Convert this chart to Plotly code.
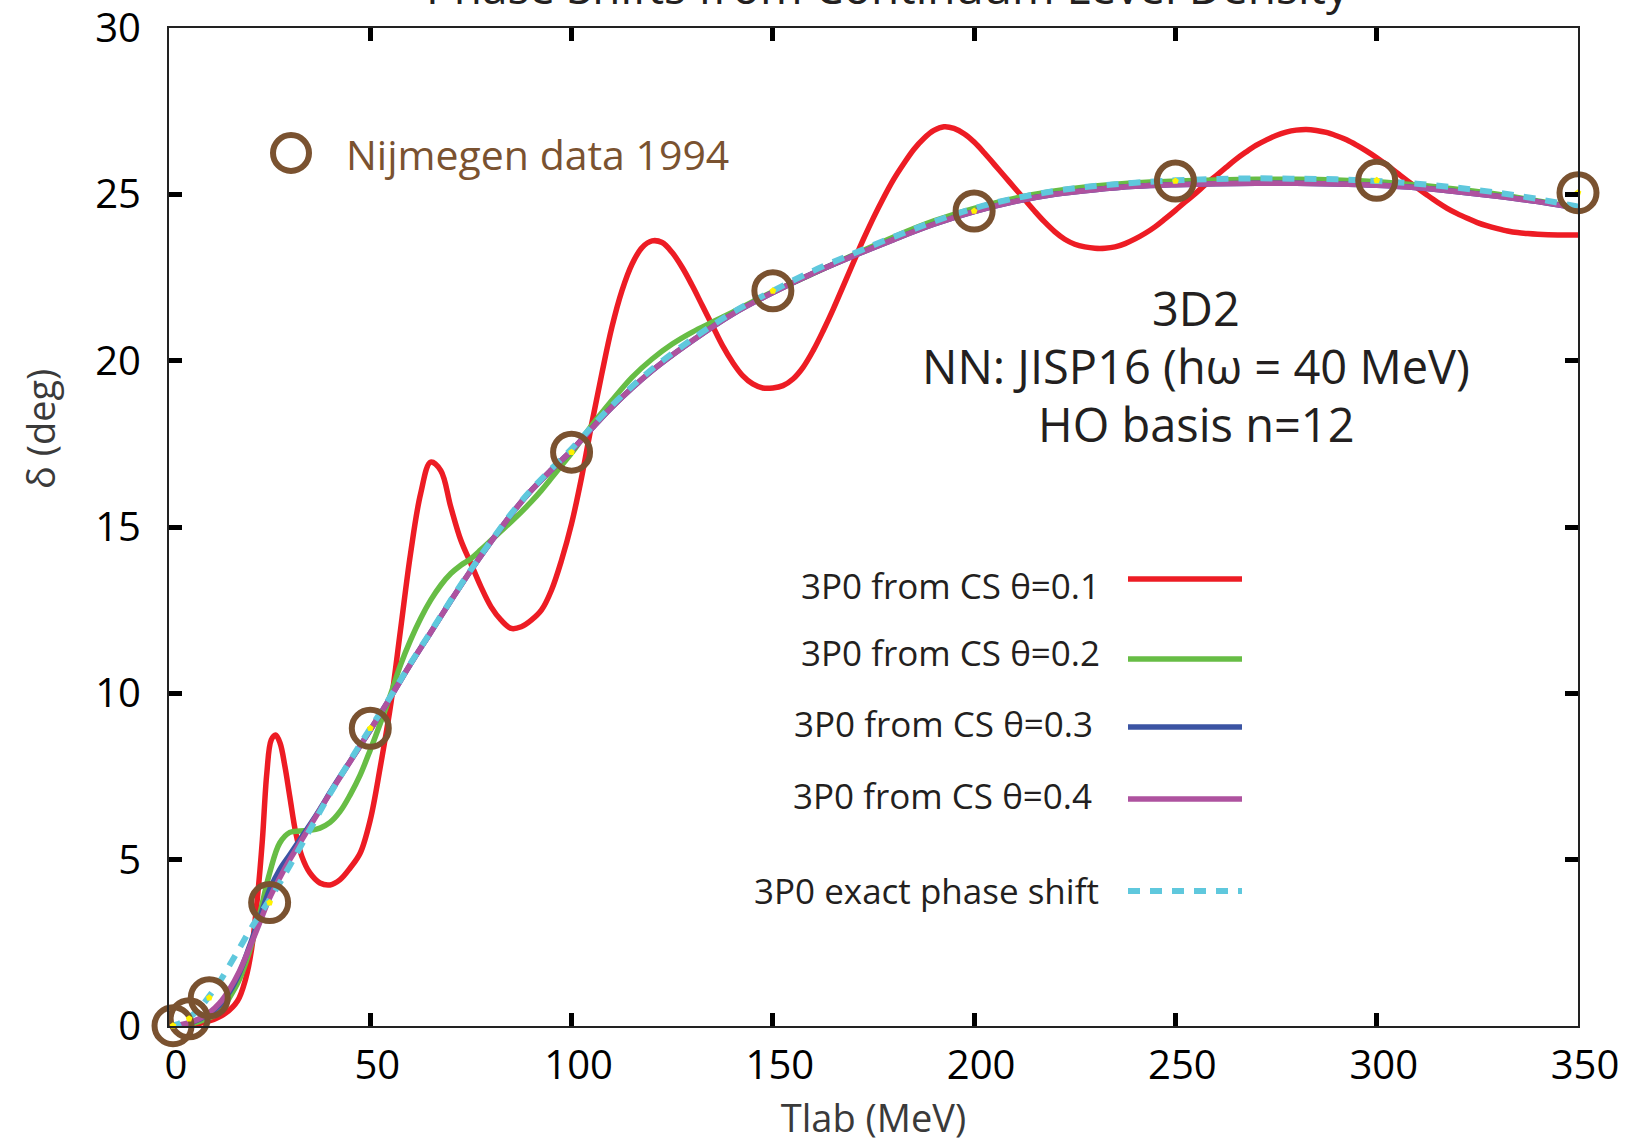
import plotly.graph_objects as go

# Nijmegen 1994 partial-wave analysis, 3D2 channel
nij_E = [1, 5, 10, 25, 50, 100, 150, 200, 250, 300, 350]
nij_delta = [0.01, 0.22, 0.85, 3.71, 8.95, 17.25, 22.1, 24.5, 25.4, 25.42, 25.05]

# exact phase shift
exact_E = [0, 2.5, 5, 7.5, 10, 12.5, 15, 17.5, 20, 22.5, 25, 27.5, 30, 35, 40, 45, 50,
           55, 60, 65, 70, 75, 80, 85, 90, 95, 100, 110, 120, 130, 140, 150, 160, 170,
           180, 190, 200, 210, 220, 230, 240, 250, 260, 270, 280, 290, 300, 310, 320,
           330, 340, 350]
exact_delta = [0, 0.07, 0.25, 0.52, 0.9, 1.32, 1.82, 2.34, 2.86, 3.34, 3.8, 4.3, 4.82,
               5.9, 6.98, 7.98, 8.95, 9.9, 10.9, 11.85, 12.8, 13.72, 14.58, 15.4, 16.12,
               16.75, 17.35, 18.65, 19.75, 20.65, 21.45, 22.1, 22.7, 23.22, 23.72,
               24.18, 24.58, 24.88, 25.1, 25.25, 25.35, 25.42, 25.46, 25.48, 25.47,
               25.45, 25.4, 25.32, 25.2, 25.05, 24.86, 24.63]

# complex scaling, theta = 0.4
cs4_E = [0, 2.5, 5, 7.5, 10, 12.5, 15, 17.5, 20, 22.5, 25, 27.5, 30, 32.5, 35, 37.5, 40,
         42.5, 45, 47.5, 50, 55, 60, 65, 70, 75, 80, 85, 90, 95, 100, 110, 120, 130,
         140, 150, 160, 170, 180, 190, 200, 210, 220, 230, 240, 250, 260, 270, 280,
         290, 300, 310, 320, 330, 340, 350]
cs4_delta = [0, 0.03, 0.1, 0.22, 0.4, 0.68, 1.1, 1.65, 2.35, 3.1, 3.85, 4.45, 5.0, 5.5,
             6.0, 6.5, 7.0, 7.48, 7.95, 8.42, 8.9, 9.88, 10.88, 11.83, 12.78, 13.7,
             14.56, 15.38, 16.1, 16.72, 17.3, 18.6, 19.7, 20.6, 21.4, 22.05, 22.63,
             23.15, 23.64, 24.1, 24.48, 24.78, 25.0, 25.14, 25.24, 25.29, 25.32, 25.33,
             25.33, 25.31, 25.27, 25.2, 25.08, 24.94, 24.78, 24.58]

# complex scaling, theta = 0.3
cs3_E = list(cs4_E)
cs3_delta = [0, 0.02, 0.08, 0.2, 0.36, 0.62, 1.02, 1.6, 2.4, 3.25, 4.1, 4.7, 5.15, 5.6,
             6.05, 6.52, 7.02, 7.5, 7.96, 8.43, 8.9, 9.88, 10.88, 11.83, 12.78, 13.7,
             14.56, 15.38, 16.1, 16.72, 17.3, 18.6, 19.7, 20.6, 21.4, 22.05, 22.63,
             23.15, 23.64, 24.1, 24.48, 24.78, 25.0, 25.14, 25.24, 25.29, 25.32, 25.33,
             25.33, 25.31, 25.27, 25.2, 25.08, 24.94, 24.78, 24.58]

# complex scaling, theta = 0.2
cs2_E = [0, 5, 10, 12.5, 15, 17.5, 20, 22.5, 25, 27.5, 30, 32.5, 35, 37.5, 40, 42.5, 45,
         47.5, 50, 52.5, 55, 57.5, 60, 62.5, 65, 67.5, 70, 72.5, 75, 77.5, 80, 82.5, 85,
         87.5, 90, 92.5, 95, 97.5, 100, 105, 110, 115, 120, 125, 130, 135, 140, 145,
         150, 160, 170, 180, 190, 200, 210, 220, 230, 240, 250, 260, 270, 280, 290,
         300, 310, 320, 330, 340, 350]
cs2_delta = [0, 0.05, 0.25, 0.4, 0.85, 1.4, 2.25, 3.35, 4.6, 5.5, 5.82, 5.86, 5.88, 5.95,
             6.12, 6.45, 6.95, 7.55, 8.3, 9.1, 9.95, 10.85, 11.6, 12.25, 12.8, 13.25,
             13.6, 13.85, 14.05, 14.32, 14.6, 14.88, 15.16, 15.45, 15.76, 16.1, 16.47,
             16.85, 17.22, 18.05, 18.8, 19.5, 20.05, 20.5, 20.86, 21.16, 21.46, 21.77,
             22.07, 22.62, 23.18, 23.72, 24.2, 24.58, 24.88, 25.1, 25.25, 25.35, 25.4,
             25.43, 25.45, 25.45, 25.43, 25.38, 25.28, 25.15, 25.0, 24.8, 24.6]

# complex scaling, theta = 0.1
cs1_E = [0, 5, 10, 14, 17, 19, 20.5, 22, 23.2, 24.3, 25.4, 26.5, 27.6, 28.8, 30, 31.5,
         33, 35, 37.5, 40, 42.5, 45, 47.5, 50, 52.5, 55, 57.5, 60, 62.5, 65, 67.5, 70,
         72.5, 75, 77.5, 80, 82.5, 85, 87.5, 90, 92.5, 95, 97.5, 100, 102.5, 105,
         107.5, 110, 112.5, 115, 117.5, 120, 122.5, 125, 127.5, 130, 132.5, 135, 137.5,
         140, 142.5, 145, 147.5, 150, 152.5, 155, 157.5, 160, 162.5, 165, 167.5, 170,
         172.5, 175, 177.5, 180, 182.5, 185, 187.5, 190, 192.5, 195, 197.5, 200, 202.5,
         205, 207.5, 210, 212.5, 215, 217.5, 220, 222.5, 225, 227.5, 230, 232.5, 235,
         237.5, 240, 242.5, 245, 247.5, 250, 252.5, 255, 257.5, 260, 262.5, 265, 267.5,
         270, 272.5, 275, 277.5, 280, 282.5, 285, 287.5, 290, 292.5, 295, 297.5, 300,
         302.5, 305, 307.5, 310, 312.5, 315, 317.5, 320, 322.5, 325, 327.5, 330, 332.5,
         335, 337.5, 340, 345, 350]
cs1_delta = [0, 0.03, 0.15, 0.38, 0.75, 1.4, 2.3, 3.9, 5.6, 7.6, 8.6, 8.75, 8.5, 7.8,
             6.9, 5.8, 5.1, 4.6, 4.3, 4.24, 4.4, 4.75, 5.2, 6.2, 7.8, 9.6, 11.9, 14.2,
             16.0, 16.95, 16.7, 15.6, 14.6, 13.9, 13.2, 12.6, 12.2, 11.95, 12.0, 12.2,
             12.5, 13.1, 14.0, 15.1, 16.5, 18.1, 19.6, 21.0, 22.1, 22.9, 23.4, 23.6,
             23.55, 23.25, 22.8, 22.25, 21.65, 21.05, 20.45, 19.95, 19.55, 19.3, 19.18,
             19.18, 19.25, 19.45, 19.8, 20.3, 20.9, 21.55, 22.25, 22.95, 23.65, 24.3,
             24.9, 25.45, 25.92, 26.35, 26.68, 26.92, 27.03, 26.98, 26.82, 26.57, 26.25,
             25.9, 25.55, 25.2, 24.85, 24.5, 24.17, 23.88, 23.65, 23.5, 23.42, 23.38,
             23.38, 23.42, 23.52, 23.66, 23.83, 24.03, 24.27, 24.52, 24.78, 25.03, 25.3,
             25.55, 25.8, 26.05, 26.27, 26.47, 26.63, 26.77, 26.87, 26.93, 26.95, 26.92,
             26.86, 26.76, 26.64, 26.48, 26.3, 26.1, 25.88, 25.65, 25.42, 25.2, 24.98,
             24.77, 24.58, 24.42, 24.28, 24.15, 24.05, 23.97, 23.9, 23.85, 23.82, 23.8,
             23.78, 23.78]

x_ticks = [0, 50, 100, 150, 200, 250, 300, 350]
y_ticks = [0, 5, 10, 15, 20, 25, 30]

legend_labels = ["3P0 from CS θ=0.1", "3P0 from CS θ=0.2", "3P0 from CS θ=0.3",
                 "3P0 from CS θ=0.4", "3P0 exact phase shift"]

RED = "#ED1C24"
GREEN = "#67BD45"
BLUE = "#3B54A3"
PURPLE = "#AE529F"
CYAN = "#5FC8DD"
BROWN = "#7A5230"
TEXT = "#231F20"
FONT = "Open Sans"

fig = go.Figure()

curves = [
    (cs1_E, cs1_delta, RED, None),
    (cs2_E, cs2_delta, GREEN, None),
    (cs3_E, cs3_delta, BLUE, None),
    (cs4_E, cs4_delta, PURPLE, None),
    (exact_E, exact_delta, CYAN, "12px,10px"),
]
for (xs, ys, col, dash), name in zip(curves, legend_labels):
    fig.add_trace(go.Scatter(
        x=xs, y=ys, mode="lines", name=name, showlegend=False,
        line=dict(color=col, width=5.5 if dash is None else 6, dash=dash,
                  shape="spline", smoothing=1.0),
    ))

fig.add_trace(go.Scatter(
    x=nij_E, y=nij_delta, mode="markers", name="Nijmegen data 1994",
    showlegend=False, cliponaxis=False,
    marker=dict(symbol="circle-open", size=37, color=BROWN,
                line=dict(color=BROWN, width=6)),
))
fig.add_trace(go.Scatter(
    x=nij_E, y=nij_delta, mode="markers", showlegend=False, cliponaxis=False,
    marker=dict(symbol="pentagon", size=7, color="#FFF200", line=dict(width=0)),
))

# frame geometry (pixels) used to convert key positions to paper units
L, R, T, B = 169, 1578, 28, 1026
W, H = 1629, 1143


def px(xp):
    return (xp - L) / (R - L)


def py(yp):
    return (B - yp) / (B - T)


shapes = []
annotations = []

legend_rows = [(1102, 585, 579, RED, None), (1102, 652, 659, GREEN, None),
               (1095, 723, 727, BLUE, None), (1094, 795, 799, PURPLE, None),
               (1101, 890, 891, CYAN, "12px,10px")]
for (tx, ty, ly, col, dash), label in zip(legend_rows, legend_labels):
    annotations.append(dict(
        x=px(tx), y=py(ty), xref="paper", yref="paper", text=label,
        showarrow=False, xanchor="right", yanchor="middle",
        font=dict(family=FONT, size=35, color=TEXT),
    ))
    shapes.append(dict(
        type="line", xref="paper", yref="paper",
        x0=px(1128), x1=px(1242), y0=py(ly), y1=py(ly),
        line=dict(color=col, width=5.5 if dash is None else 6, dash=dash),
    ))

# Nijmegen key
shapes.append(dict(
    type="circle", xref="paper", yref="paper", xsizemode="pixel", ysizemode="pixel",
    xanchor=px(291), yanchor=py(153), x0=-18, x1=18, y0=-18, y1=18,
    line=dict(color=BROWN, width=6),
))
annotations.append(dict(
    x=px(344), y=py(154), xref="paper", yref="paper", text="Nijmegen data 1994",
    showarrow=False, xanchor="left", yanchor="middle",
    font=dict(family=FONT, size=41, color=BROWN),
))

for txt, yy in [("3D2", 308), ("NN: JISP16 (hω = 40 MeV)", 366), ("HO basis n=12", 424)]:
    annotations.append(dict(
        x=px(1196), y=py(yy), xref="paper", yref="paper", text=txt,
        showarrow=False, xanchor="center", yanchor="middle",
        font=dict(family=FONT, size=47, color=TEXT),
    ))

annotations.append(dict(
    x=px(888), y=py(19), xref="paper", yref="paper",
    text="Phase Shifts from Continuum Level Density",
    showarrow=False, xanchor="center", yanchor="bottom",
    font=dict(family=FONT, size=46, color=TEXT),
))

annotations.append(dict(
    x=px(40), y=py(429), xref="paper", yref="paper", text="δ (deg)",
    showarrow=False, xanchor="center", yanchor="middle", textangle=-90,
    font=dict(family=FONT, size=38, color="#3A3A3A"),
))

axis_common = dict(
    showgrid=False, zeroline=False, showline=True, linecolor="#222222", linewidth=2,
    mirror="allticks", ticks="inside", ticklen=13, tickwidth=5, tickcolor="black",
    ticklabeloverflow="allow",
    tickfont=dict(family=FONT, size=40, color="black"),
)

fig.update_layout(
    width=W, height=H,
    margin=dict(l=L, r=W - R, t=T, b=H - B, autoexpand=False),
    paper_bgcolor="white", plot_bgcolor="white",
    shapes=shapes, annotations=annotations,
    xaxis=dict(range=[0, 350], tickvals=x_ticks, ticktext=[str(v) for v in x_ticks],
               ticklabelstandoff=3, ticklabelshift=7,
               title=dict(text="Tlab (MeV)", standoff=26,
                          font=dict(family=FONT, size=38, color="#3A3A3A")),
               **axis_common),
    yaxis=dict(range=[0, 30], tickvals=y_ticks, ticktext=[str(v) for v in y_ticks],
               ticklabelstandoff=18, **axis_common),
)

fig.write_html("out.html")
